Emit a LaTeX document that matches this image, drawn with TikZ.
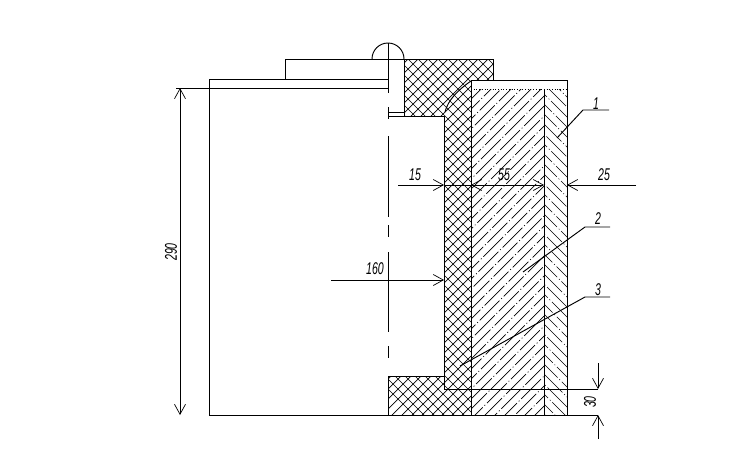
\documentclass[tikz,border=0pt]{standalone}
\usepackage{fontspec}
\setmainfont{Liberation Sans}
\usetikzlibrary{arrows.meta}
\newcommand{\narrowtext}[1]{\scalebox{0.62}[1]{#1}}
\tikzset{
  main/.style={line width=1pt,black},
  thinl/.style={line width=0.95pt,black},
  hatch/.style={line width=0.7pt,black},
  dimtip/.style={-{Straight Barb[length=10pt,width=11pt,line width=0.7pt]},line width=0.95pt},
  dimlabel/.style={font=\itshape\fontsize{17}{17}\selectfont,inner sep=0pt,text=black},
}
\begin{document}
\begin{tikzpicture}[x=1pt,y=-1pt]
\useasboundingbox[fill=white] (0,0) rectangle (753,464);
% crosshatch
\begin{scope}
\clip (404,59)--(493,59)--(493,80)--(471,80)--(471,415)--(388,415)--(388,376)--(444,376)--(444,116)--(404,116)--cycle;
\foreach \c in {457,467,...,897}{\draw[hatch] (\c,0)--(0,\c);}
\foreach \c in {-1,9,...,479}{\draw[hatch] (\c,0)--(\c+480,480);}
\end{scope}
% insulation hatch
\begin{scope}
\clip (471,89) rectangle (544,415);
\foreach \c in {560,570,...,980}{\pgfmathsetmacro{\ph}{mod(\c*1.3,33)}\draw[hatch,dash pattern=on 28pt off 2.5pt on 1pt off 2.5pt,dash phase=\ph pt] (\c,0)--(0,\c);}
\end{scope}
% outer layer hatch
\begin{scope}
\clip (544,89) rectangle (567,415);
\foreach \c in {60,70,...,490}{\pgfmathsetmacro{\ph}{mod(\c*2.1,34)}\draw[hatch,dash pattern=on 28pt off 2.5pt on 1pt off 2.5pt,dash phase=\ph pt] (\c,0)--(\c+480,480);}
\end{scope}
% outlines
\draw[main] (404,59)--(493,59)--(493,80);
\draw[main] (471,80)--(567,80)--(567,415);
\draw[main] (471,80)--(471,415);
\draw[main] (544,89)--(544,415);
\draw[hatch,dotted] (471,89)--(567,89);
\draw[main] (404,59)--(404,116);
\draw[main] (388,116)--(444,116)--(444,389)--(598,389);
\draw[main] (388,112)--(404,112);
\draw[main] (388,415)--(388,376)--(444,376);
\draw[main] (209,415)--(598,415);
\draw[main] (209,79)--(209,415);
\draw[main] (209,79)--(388,79);
\draw[main] (176,88)--(388,88);
\draw[main] (285,79)--(285,59)--(404,59);
\draw[thinl] (445,112) .. controls (448,100) and (458,90) .. (471,81);
% dome and centre line
\draw[thinl] (372,59) arc[start angle=180,end angle=360,radius=16];
\draw[main] (388,43)--(388,93);
\foreach \a/\b in {107/119,136/217,225/237,252/332,346/358}{\draw[main] (388,\a)--(388,\b);}
% dimensions
\node[dimlabel] (d15) at (415,175) {\narrowtext{15}};
\node[dimlabel] (d55) at (504,175) {\narrowtext{55}};
\node[dimlabel] (d25) at (604,175) {\narrowtext{25}};
\node[dimlabel] (d160) at (375,269) {\narrowtext{160}};
\node[dimlabel,rotate=90] (d290) at (171,252) {\narrowtext{290}};
\node[dimlabel,rotate=90] (d30) at (590,402) {\narrowtext{30}};
\draw[dimtip] (398,185)--(444,185);
\draw[thinl] (444,185)--(471,185);
\draw[dimtip] (505,185)--(471,185);
\draw[dimtip] (505,185)--(544,185);
\draw[dimtip] (636,185)--(567,185);
\draw[dimtip] (331,280)--(444,280);
\draw[dimtip] (180,250)--(180,88);
\draw[dimtip] (180,250)--(180,415);
\draw[dimtip] (598,363)--(598,389);
\draw[dimtip] (598,439)--(598,415);
% leaders
\node[dimlabel] (l1) at (596,104) {\narrowtext{1}};
\node[dimlabel] (l2) at (598,219) {\narrowtext{2}};
\node[dimlabel] (l3) at (598,290) {\narrowtext{3}};
\draw[thinl] (557,138)--(583,110)--(609,110);
\draw[thinl] (523,272)--(585,227)--(610,227);
\draw[thinl] (460,366)--(585,297)--(610,297);
\end{tikzpicture}
\end{document}
